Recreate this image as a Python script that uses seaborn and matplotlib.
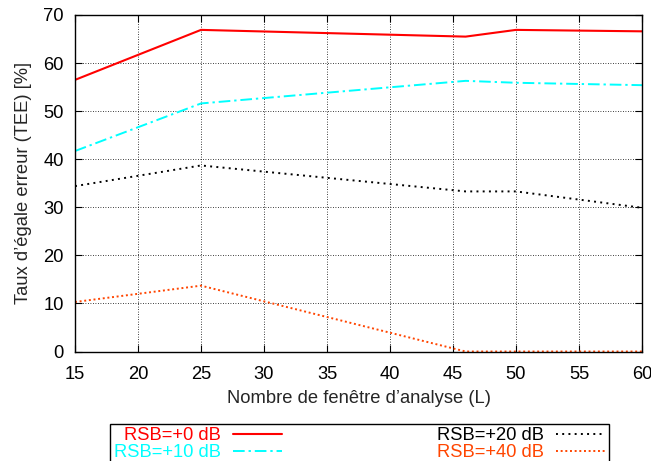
import matplotlib
matplotlib.use("Agg")
import matplotlib.pyplot as plt
import seaborn as sns
import pandas as pd

# Window length L and equal error rate (%) for each SNR condition
window_sizes = [15, 25, 46, 50, 60]
tee_snr0 = [56.5, 66.9, 65.5, 66.9, 66.6]
tee_snr10 = [41.7, 51.6, 56.3, 55.9, 55.4]
tee_snr20 = [34.4, 38.7, 33.3, 33.3, 29.9]
tee_snr40 = [10.3, 13.7, 0.0, 0.0, 0.0]

series_labels = ["RSB=+0 dB", "RSB=+10 dB", "RSB=+20 dB", "RSB=+40 dB"]
series_values = [tee_snr0, tee_snr10, tee_snr20, tee_snr40]
series_colors = ["#ff0000", "#00ffff", "#000000", "#ff4500"]
series_dashes = [None, (6, 2, 1.2, 2), (1, 2.2), (1, 1.4)]

x_ticks = [15, 20, 25, 30, 35, 40, 45, 50, 55, 60]
y_ticks = [0, 10, 20, 30, 40, 50, 60, 70]

FS = 13.2

sns.set_theme(style="ticks")
plt.rcParams["font.family"] = ["Liberation Sans", "DejaVu Sans"]
plt.rcParams["font.size"] = FS

fig = plt.figure(figsize=(6.51, 4.61), dpi=100)
ax = fig.add_axes([0.1152, 0.2375, 0.8710, 0.7300])

for label, values, color, dash in zip(series_labels, series_values,
                                      series_colors, series_dashes):
    df = pd.DataFrame({"L": window_sizes, "TEE": values})
    sns.lineplot(data=df, x="L", y="TEE", ax=ax, color=color, label=label,
                 linewidth=1.5 if dash is None else 1.4, legend=False)
    line = ax.lines[-1]
    if dash is not None:
        line.set_dashes(dash)

ax.set_xlim(15, 60)
ax.set_ylim(0, 70)
ax.set_xticks(x_ticks)
ax.set_yticks(y_ticks)
ax.tick_params(direction="in", length=5, width=0.8, top=True, right=True,
               labelsize=FS, colors="black")
ax.tick_params(axis="x", pad=10.5)
ax.tick_params(axis="y", pad=8)
ax.grid(True, color="black", linestyle=(0, (1, 2)), linewidth=0.6)
for sp in ax.spines.values():
    sp.set_visible(True)
    sp.set_color("black")
    sp.set_linewidth(1.0)

ax.set_xlabel("Nombre de fenêtre d’analyse (L)", fontsize=FS, labelpad=5)
ax.set_ylabel("Taux d’égale erreur (TEE) [%]", fontsize=FS, labelpad=8)

handles, labels = ax.get_legend_handles_labels()
leg = fig.legend(handles, labels, ncol=2, mode="expand",
                 loc="upper left",
                 bbox_to_anchor=(0.169, -0.2, 0.7665, 0.281),
                 bbox_transform=fig.transFigure,
                 markerfirst=False, labelcolor="linecolor",
                 handlelength=2.7, handletextpad=0.65, labelspacing=0.0,
                 borderpad=0.2, borderaxespad=0.0, fancybox=False,
                 framealpha=1, edgecolor="black", fontsize=FS)
leg.get_frame().set_linewidth(1.0)

fig.savefig("out.png", dpi=100)
